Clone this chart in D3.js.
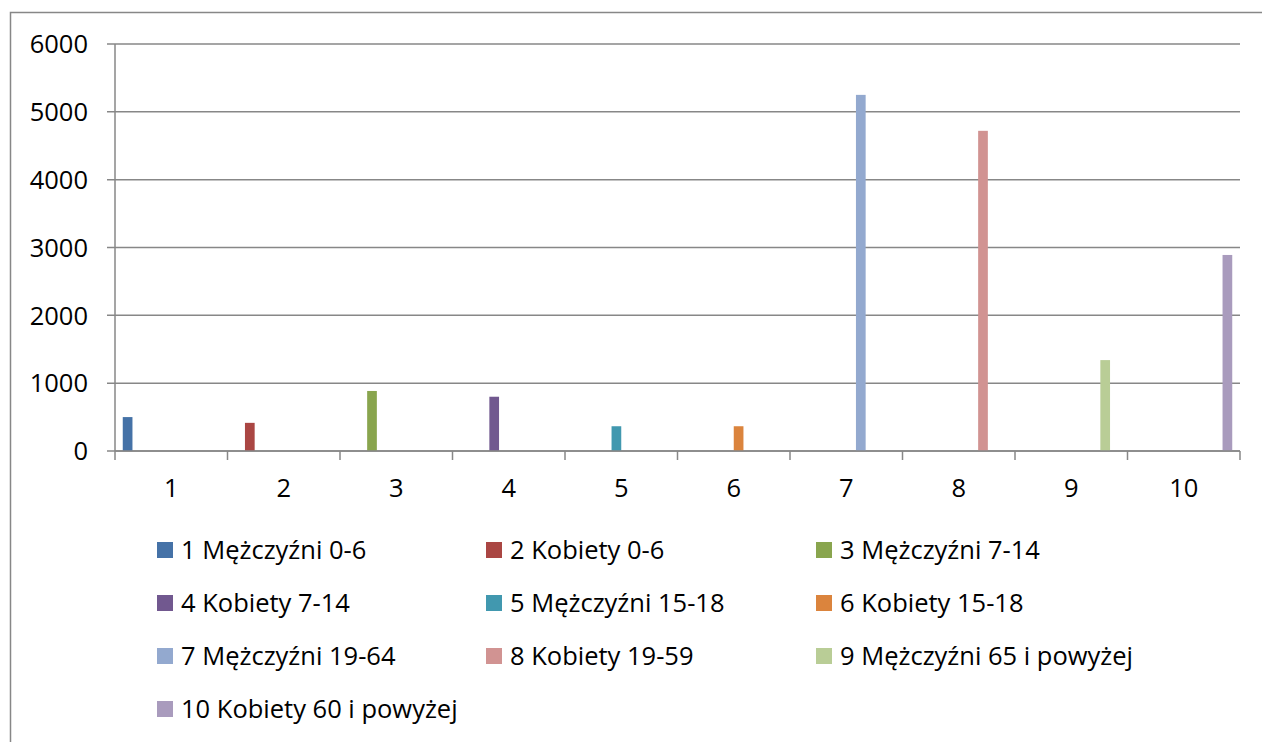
<!DOCTYPE html>
<html>
<head>
<meta charset="utf-8">
<script src="https://cdn.jsdelivr.net/npm/d3@7"></script>
<style>
  html, body { margin: 0; padding: 0; background: #fff; overflow: hidden; }
  svg { display: block; }
  text { font-family: "Open Sans", Lato, sans-serif; fill: #000; }
</style>
</head>
<body>
<svg id="chart" width="1262" height="742"></svg>
<script>
const categories = ["1", "2", "3", "4", "5", "6", "7", "8", "9", "10"];
const seriesNames = [
  "1 Mężczyźni 0-6", "2 Kobiety 0-6", "3 Mężczyźni 7-14",
  "4 Kobiety 7-14", "5 Mężczyźni 15-18", "6 Kobiety 15-18",
  "7 Mężczyźni 19-64", "8 Kobiety 19-59", "9 Mężczyźni 65 i powyżej",
  "10 Kobiety 60 i powyżej"
];
// each series has a value only in its own category
const seriesValues = [500, 415, 885, 800, 365, 365, 5250, 4720, 1340, 2890];
const seriesColors = ["#4572A7", "#AA4643", "#89A54E", "#71588F", "#4198AF",
                      "#DB843D", "#93A9CF", "#D19392", "#B9CD96", "#A99BBD"];
const yTicks = [0, 1000, 2000, 3000, 4000, 5000, 6000];

const svg = d3.select("#chart");
const axisColor = "#878787";
const fontSize = "25.5px";

// outer chart border (extends past the right and bottom edges)
svg.append("rect")
  .attr("x", 10.5).attr("y", 12.5)
  .attr("width", 1300).attr("height", 800)
  .attr("fill", "none").attr("stroke", axisColor).attr("stroke-width", 1.5);

const plot = { left: 115, right: 1240, top: 44, bottom: 451 };

const x = d3.scaleBand().domain(categories).range([plot.left, plot.right]).padding(0);
const xs = d3.scaleBand().domain(d3.range(seriesNames.length))
  .range([0, x.bandwidth()]).paddingInner(0).paddingOuter(0.8);
const y = d3.scaleLinear().domain([0, 6000]).range([plot.bottom, plot.top]);

// gridlines + y ticks
svg.append("g").selectAll("line").data(yTicks).join("line")
  .attr("x1", plot.left - 8).attr("x2", plot.right)
  .attr("y1", d => y(d)).attr("y2", d => y(d))
  .attr("stroke", axisColor).attr("stroke-width", 1.5);

// y axis line
svg.append("line")
  .attr("x1", plot.left).attr("x2", plot.left)
  .attr("y1", y(6000)).attr("y2", y(0))
  .attr("stroke", axisColor).attr("stroke-width", 1.5);

// y labels
svg.append("g").selectAll("text").data(yTicks).join("text")
  .attr("x", 88).attr("y", d => y(d)).attr("dy", "0.36em")
  .attr("text-anchor", "end").style("font-size", fontSize)
  .text(d => d);

// x tick marks at category boundaries
const boundaries = categories.map(c => x(c)).concat([x(categories[categories.length - 1]) + x.bandwidth()]);
svg.append("g").selectAll("line").data(boundaries).join("line")
  .attr("x1", d => d).attr("x2", d => d)
  .attr("y1", plot.bottom).attr("y2", plot.bottom + 9)
  .attr("stroke", axisColor).attr("stroke-width", 1.5);

// x labels
svg.append("g").selectAll("text").data(categories).join("text")
  .attr("x", d => x(d) + x.bandwidth() / 2).attr("y", 497)
  .attr("text-anchor", "middle").style("font-size", fontSize)
  .text(d => d);

// bars
svg.append("g").selectAll("rect").data(seriesValues).join("rect")
  .attr("x", (d, i) => x(categories[i]) + xs(i))
  .attr("width", xs.bandwidth())
  .attr("y", d => y(d))
  .attr("height", d => y(0) - y(d))
  .attr("fill", (d, i) => seriesColors[i]);

// redraw baseline over bars
svg.append("line")
  .attr("x1", plot.left).attr("x2", plot.right)
  .attr("y1", y(0)).attr("y2", y(0))
  .attr("stroke", axisColor).attr("stroke-width", 1.5);

// legend
const legendCols = [157, 486, 816];
const legendRows = [550, 603, 656, 709];
const legend = svg.append("g").selectAll("g").data(seriesNames).join("g")
  .attr("transform", (d, i) => `translate(${legendCols[i % 3]},${legendRows[Math.floor(i / 3)]})`);
legend.append("rect")
  .attr("x", 0).attr("y", -8).attr("width", 16).attr("height", 16)
  .attr("fill", (d, i) => seriesColors[i]);
legend.append("text")
  .attr("x", 24).attr("y", 9)
  .style("font-size", fontSize)
  .text(d => d);
</script>
</body>
</html>
